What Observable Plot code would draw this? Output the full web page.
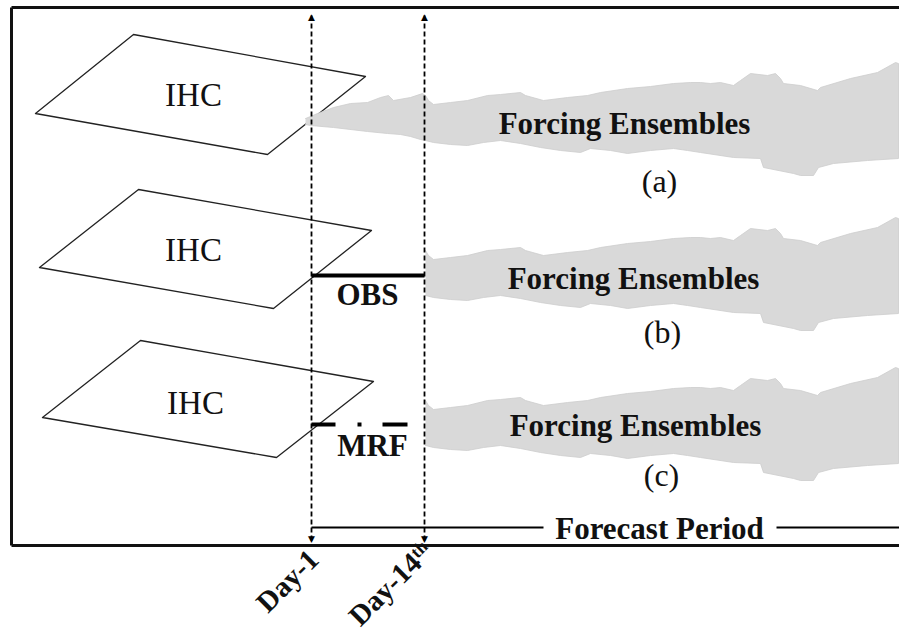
<!DOCTYPE html>
<html>
<head>
<meta charset="utf-8">
<script src="https://cdn.jsdelivr.net/npm/d3@7"></script>
<script src="https://cdn.jsdelivr.net/npm/@observablehq/plot@0.6"></script>
<style>
  html, body { margin: 0; padding: 0; background: #fff; }
  #chart svg { display: block; }
</style>
</head>
<body>
<div id="chart"></div>
<script>
// ---- text content ----
const panels = ["a", "b", "c"];
const panelLabels = ["(a)", "(b)", "(c)"];
const ihcLabels = ["IHC", "IHC", "IHC"];
const ensembleLabels = ["Forcing Ensembles", "Forcing Ensembles", "Forcing Ensembles"];
const forcingLabels = ["OBS", "MRF"];
const dayLabels = ["Day-1", "Day-14th"];
const periodLabel = "Forecast Period";

// ---- schematic geometry (diagram units = pixels of the figure) ----
const dayX = [311, 424];                 // Day-1, Day-14th
const frameTop = 7, frameBottom = 545, frameLeft = 11, frameRight = 899;
const periodY = 527;

// parallelogram (IHC planes) vertices per panel
const ihcPlaneX = [[35, 133, 365, 267], [39, 138, 371, 273], [42, 140, 373, 276]];
const ihcPlaneY = [[113, 34, 76, 154], [267, 189, 230, 308], [417, 340, 381, 457]];
const ihcTextX = [193, 193, 195];
const ihcTextY = [105, 260, 413];

// ensemble plume outline for panel (a); other panels shifted down
const plumeTopX = [305, 310, 317, 333, 350, 367, 380, 388, 393, 410, 422, 425, 428, 433, 450, 467, 487, 500, 520, 525, 543, 567, 587, 600, 627, 650, 673, 690, 700, 710, 720, 733, 740, 750, 767, 775, 780, 783, 800, 817, 820, 850, 877, 895, 898];
const plumeTopY = [118, 116, 113, 107, 103, 102, 97, 95, 100, 97, 93, 95, 100, 104, 102, 100, 95, 94, 92, 95, 100, 97, 95, 92, 88, 86, 83, 82, 82, 83, 82, 85, 80, 73, 75, 73, 78, 83, 85, 90, 87, 78, 72, 62, 63];
const plumeBotX = [305, 310, 333, 367, 387, 400, 410, 420, 425, 433, 450, 467, 483, 500, 520, 540, 560, 580, 590, 610, 627, 650, 673, 687, 700, 733, 760, 763, 793, 800, 813, 818, 833, 867, 898];
const plumeBotY = [124, 125, 127, 131, 133, 134, 136, 139, 140, 142, 144, 145, 142, 140, 143, 147, 150, 152, 148, 150, 153, 150, 148, 150, 152, 157, 158, 167, 173, 175, 175, 167, 163, 160, 158];
const plumeShiftY = [0, 155, 305];
const plumeStartX = [305, 425, 425];

const ensembleTextX = [624, 633, 635];
const ensembleTextY = [133, 288, 435];
const panelTextX = [659, 662, 661];
const panelTextY = [191, 342, 485];

// forcing segments before Day-14 (OBS solid, MRF dash-dot)
const obsY = 275;
const mrfY = 424;
const mrfSegX1 = [311, 357, 382];
const mrfSegX2 = [335, 361, 407];
const forcingTextX = [367, 372];
const forcingTextY = [304, 455];

// day label anchor (end of rotated baseline)
const dayTextX = [320, 434];
const dayTextY = [561, 553];

// ---- build tables ----
const planes = panels.flatMap((p, i) =>
  [0, 1, 2, 3, 0].map(k => ({panel: p, x: ihcPlaneX[i][k], y: ihcPlaneY[i][k]})));

const plumes = panels.flatMap((p, i) => {
  const top = plumeTopX.map((x, k) => ({panel: p, x, y: plumeTopY[k] + plumeShiftY[i]}))
    .filter(d => d.x >= plumeStartX[i]);
  const bot = plumeBotX.map((x, k) => ({panel: p, x, y: plumeBotY[k] + plumeShiftY[i]}))
    .filter(d => d.x >= plumeStartX[i]).reverse();
  return top.concat(bot);
});

const texts = (labels, xs, ys) => labels.map((t, i) => ({t, x: xs[i], y: ys[i]}));

const frameSegs = [
  {x1: frameLeft, y1: frameTop, x2: frameRight, y2: frameTop},
  {x1: frameLeft, y1: frameTop, x2: frameLeft, y2: frameBottom},
  {x1: frameLeft, y1: frameBottom, x2: frameRight, y2: frameBottom}
];
const daySegs = dayX.map(x => ({x1: x, y1: 15, x2: x, y2: 540}));
const periodGapX = [543, 776];
const periodSegs = [
  {x1: dayX[0], y1: periodY, x2: periodGapX[0], y2: periodY},
  {x1: periodGapX[1], y1: periodY, x2: frameRight, y2: periodY}
];
const mrfSegs = mrfSegX1.map((x1, i) => ({x1, x2: mrfSegX2[i], y1: mrfY, y2: mrfY}));

const serif = "Liberation Serif, Times New Roman, serif";

const chart = Plot.plot({
  width: 899,
  height: 637,
  margin: 0,
  x: {domain: [0, 899], range: [0, 899], axis: null},
  y: {domain: [0, 637], range: [0, 637], axis: null},
  marks: [
    Plot.line(planes, {x: "x", y: "y", z: "panel", stroke: "#222", strokeWidth: 1.3, fill: "none", curve: "linear"}),
    Plot.line(plumes, {x: "x", y: "y", z: "panel", fill: "#d9d9d9", stroke: "#cdcdcd", strokeWidth: 0.8, curve: "linear"}),
    Plot.link(frameSegs, {x1: "x1", y1: "y1", x2: "x2", y2: "y2", stroke: "#111", strokeWidth: 3}),
    Plot.link([{x1: dayX[0], x2: dayX[1], y1: obsY, y2: obsY}], {x1: "x1", y1: "y1", x2: "x2", y2: "y2", stroke: "#000", strokeWidth: 4}),
    Plot.link(mrfSegs, {x1: "x1", y1: "y1", x2: "x2", y2: "y2", stroke: "#000", strokeWidth: 4}),
    Plot.link(daySegs, {x1: "x1", y1: "y1", x2: "x2", y2: "y2", stroke: "#000", strokeWidth: 1.8, strokeDasharray: "5,3"}),
    Plot.text(dayX, {x: d => d, y: () => 17, text: () => "\u25B2", fontSize: 9, fontFamily: "DejaVu Sans", fill: "#000"}),
    Plot.text(dayX, {x: d => d, y: () => 539, text: () => "\u25BC", fontSize: 9, fontFamily: "DejaVu Sans", fill: "#000"}),
    Plot.link(periodSegs, {x1: "x1", y1: "y1", x2: "x2", y2: "y2", stroke: "#000", strokeWidth: 2}),
    Plot.text(texts(ihcLabels, ihcTextX, ihcTextY), {x: "x", y: "y", text: "t", fontFamily: serif, fontSize: 33, lineAnchor: "bottom", fill: "#111"}),
    Plot.text(texts(ensembleLabels, ensembleTextX, ensembleTextY), {x: "x", y: "y", text: "t", fontFamily: serif, fontSize: 31, fontWeight: "bold", lineAnchor: "bottom", fill: "#111"}),
    Plot.text(texts(panelLabels, panelTextX, panelTextY), {x: "x", y: "y", text: "t", fontFamily: serif, fontSize: 32, lineAnchor: "bottom", fill: "#111"}),
    Plot.text(texts(forcingLabels, forcingTextX, forcingTextY), {x: "x", y: "y", text: "t", fontFamily: serif, fontSize: 31, fontWeight: "bold", lineAnchor: "bottom", fill: "#111"}),
    Plot.text([periodLabel], {x: () => 659, y: () => 538, text: d => d, fontFamily: serif, fontSize: 31, fontWeight: "bold", lineAnchor: "bottom", fill: "#111"}),
    Plot.text(texts(dayLabels, dayTextX, dayTextY), {x: "x", y: "y", text: "t", rotate: -45, textAnchor: "end", lineAnchor: "bottom", fontFamily: serif, fontSize: 29, fontWeight: "bold", fill: "#111"})
  ]
});

document.getElementById("chart").appendChild(chart);

// superscript for "th"
d3.select(chart).selectAll("text").each(function() {
  const el = d3.select(this);
  if (this.textContent === "Day-14th") {
    el.text("Day-14");
    el.append("tspan").attr("font-size", 18).attr("dy", "-0.45em").text("th");
  }
});
</script>
</body>
</html>
